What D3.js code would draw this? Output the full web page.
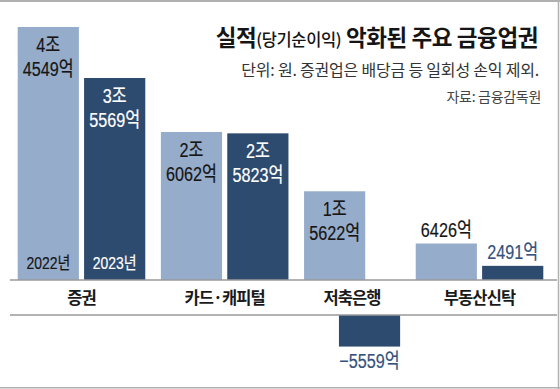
<!DOCTYPE html>
<html><head><meta charset="utf-8">
<script src="https://cdn.jsdelivr.net/npm/d3@7"></script>
<style>
html,body{margin:0;padding:0;background:#fff;}
svg{display:block;}
.num{font-family:"Liberation Sans","Noto Sans CJK KR",sans-serif;}
.kr{font-family:"Noto Sans CJK KR","Noto Sans",sans-serif;}
</style></head>
<body>
<svg id="chart" width="560" height="389"></svg>
<script>
// ---- data ----
const categories = ["증권", "카드·캐피털", "저축은행", "부동산신탁"];
const years = ["2022년", "2023년"];
const values2022 = [44549, 26062, 15622, 6426];   // 억원
const values2023 = [35569, 25823, -5559, 2491];   // 억원
const title = ["실적", "(당기순이익)", " 악화된 주요 금융업권"];
const subtitle = "단위: 원. 증권업은 배당금 등 일회성 손익 제외.";
const source = "자료: 금융감독원";

const W = 560, H = 389;
const colLight = "#95acca", colDark = "#2d4a6f", colDarkText = "#34527c";
const svg = d3.select("#chart");

// frame
svg.append("line").attr("x1",0).attr("x2",W).attr("y1",1).attr("y2",1).attr("stroke","#b0b0b0").attr("stroke-width",2);
svg.append("line").attr("x1",558.5).attr("x2",558.5).attr("y1",0).attr("y2",H).attr("stroke","#b0b0b0").attr("stroke-width",1.5);
svg.append("line").attr("x1",0).attr("x2",W).attr("y1",387.8).attr("y2",387.8).attr("stroke","#b0b0b0").attr("stroke-width",1.5);

const data = categories.map((c,i)=>({cat:c, a:values2022[i], b:values2023[i]}));

// layout units: bar = 1, inner gap, group gap; negative bar sits half-offset below the label strip
const innerGap = 0.085, groupGap = 0.255, negOffset = 0.57;
let acc = 0;
data.forEach((d,i)=>{
  d.start = acc;
  d.offB = d.b < 0 ? negOffset : 1 + innerGap;
  d.width = d.offB + 1;
  acc += d.width + (i < data.length-1 ? groupGap : 0);
});
const x = d3.scaleLinear().domain([0, acc]).range([17.7, 543.3]);
const bw = x(1) - x(0);

const base = 280, stripBottom = 315;
const maxV = d3.max(values2022.concat(values2023));
const y = d3.scaleLinear().domain([0, maxV]).range([base, 27]);
const hgt = v => y(0) - y(Math.abs(v));

const bars = [];
data.forEach((d,i)=>{
  bars.push({i, yr:0, v:d.a, x0:x(d.start), color:colLight});
  bars.push({i, yr:1, v:d.b, x0:x(d.start + d.offB), color:colDark});
});

svg.selectAll("rect.bar").data(bars).join("rect")
  .attr("class","bar")
  .attr("x", b=>b.x0).attr("width", bw)
  .attr("y", b=> b.v>=0 ? y(b.v) : stripBottom)
  .attr("height", b=>hgt(b.v))
  .attr("fill", b=>b.color);

[base, stripBottom].forEach(yy=>{
  svg.append("line").attr("x1",10).attr("x2",557).attr("y1",yy).attr("y2",yy)
    .attr("stroke","#9a9a9a").attr("stroke-width",1.5);
});

function fmt(v){
  const s = v<0 ? "−" : "";
  const a = Math.abs(v);
  const jo = Math.floor(a/10000), eok = a%10000;
  return jo>0 ? [jo+"조", eok+"억"] : [s+eok+"억"];
}
function narrowText(px, py, t, size, col, sx){
  svg.append("text").attr("class","num")
    .attr("transform",`translate(${px},${py}) scale(${sx},1)`)
    .attr("text-anchor","middle").attr("font-size",size).attr("fill",col)
    .attr("stroke",col).attr("stroke-width",0.2).text(t);
}
const SX = 0.79;
bars.forEach(b=>{
  const lines = fmt(b.v);
  const cx = b.x0 + bw/2;
  const h = hgt(b.v);
  if (b.v >= 0 && h > 60) {
    const top = y(b.v);
    const col = b.yr===0 ? "#151515" : "#ffffff";
    lines.forEach((t,k)=> narrowText(cx, top+25+k*24, t, 20.5, col, SX));
  } else if (b.v >= 0) {
    narrowText(cx, y(b.v)-7, lines[0], 20.5, b.yr===0 ? "#151515" : colDarkText, SX);
  } else {
    narrowText(cx, stripBottom+h+21.5, lines[0], 20.5, colDarkText, SX);
  }
});

bars.filter(b=>b.i===0).forEach(b=>{
  narrowText(b.x0+bw/2, base-11, years[b.yr], 17, b.yr===0 ? "#151515" : "#ffffff", 0.82);
});

data.forEach(d=>{
  svg.append("text").attr("class","kr").attr("x", x(d.start + d.width/2)).attr("y",304)
    .attr("text-anchor","middle").attr("font-size",16.5).attr("font-weight",600)
    .attr("letter-spacing",-0.9).attr("fill","#1a1a1a").text(d.cat);
});

const tt = svg.append("text").attr("class","kr").attr("x",538).attr("y",46)
  .attr("text-anchor","end").attr("fill","#151515").attr("letter-spacing",-0.4);
tt.append("tspan").attr("font-size",22.5).attr("font-weight",700).text(title[0]);
tt.append("tspan").attr("font-size",16.5).attr("font-weight",500).text(title[1]);
tt.append("tspan").attr("font-size",22.5).attr("font-weight",700).text(title[2]);

svg.append("text").attr("class","kr").attr("x",539).attr("y",76).attr("text-anchor","end")
  .attr("font-size",16).attr("fill","#333").attr("letter-spacing",-0.2).text(subtitle);
svg.append("text").attr("class","kr").attr("x",541).attr("y",102).attr("text-anchor","end")
  .attr("font-size",14).attr("fill","#444").attr("letter-spacing",-0.3).text(source);
</script>
</body></html>
